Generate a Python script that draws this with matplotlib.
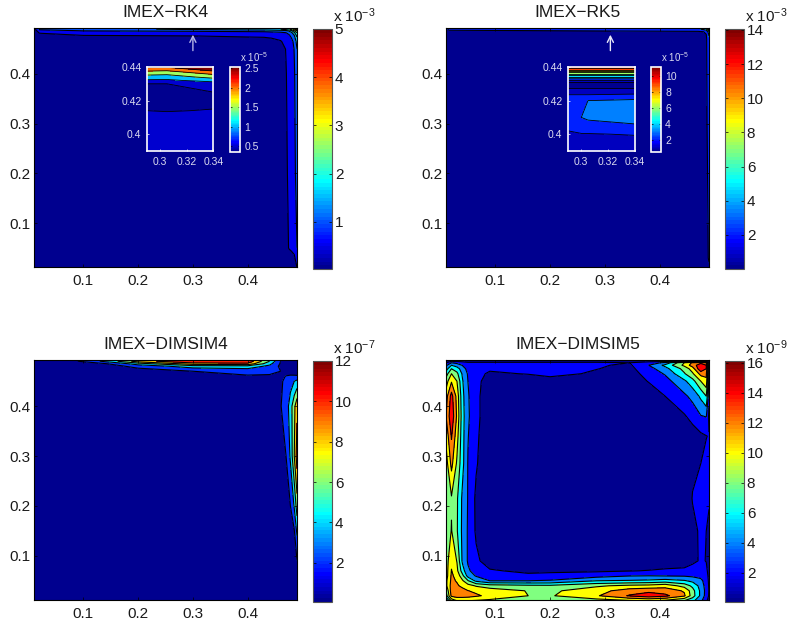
import numpy as np
import matplotlib
matplotlib.use('Agg')
import matplotlib.pyplot as plt
from matplotlib.colors import ListedColormap, Normalize
from matplotlib.cm import ScalarMappable

plt.rcParams['font.family'] = ['Liberation Sans', 'DejaVu Sans']
plt.rcParams['mathtext.default'] = 'regular'

# --- values ---
titles = ['IMEX\u2212RK4', 'IMEX\u2212RK5', 'IMEX\u2212DIMSIM4', 'IMEX\u2212DIMSIM5']
main_ticks = [0.1, 0.2, 0.3, 0.4]

# IMEX-RK4, units of 1e-3
x1 = [.01, .02, .1, .3, .43, .46, .47, .475, .48, .485, .49]
y1 = [.01, .05, .2, .4, .45, .465, .472, .478, .483, .487, .49]
z1 = [[.02, .02, .02, .02, .02, .02, .02, .02, .02, .1, .5],
      [.02, .02, .02, .02, .02, .05, .3, .52, .6, .7, 1.0],
      [.02, .02, .02, .02, .02, .1, .42, .58, .68, .85, 1.2],
      [.02, .02, .02, .02, .05, .15, .48, .62, .72, .95, 1.3],
      [.02, .02, .03, .04, .1, .3, .52, .65, .78, 1.02, 1.5],
      [.02, .03, .05, .08, .3, .47, .6, .72, .88, 1.1, 1.7],
      [.02, .1, .2, .3, .45, .56, .7, .85, 1.0, 1.3, 1.9],
      [.03, .3, .52, .56, .62, .7, .85, .95, 1.1, 1.5, 2.2],
      [.1, .55, .7, .75, .8, .9, 1.0, 1.1, 1.4, 1.9, 2.5],
      [.2, .8, 1.02, 1.1, 1.2, 1.3, 1.4, 1.6, 1.9, 2.5, 3.0],
      [.3, 1.1, 1.3, 1.6, 1.8, 2.0, 2.2, 2.4, 2.7, 3.2, 4.2]]
levels1 = [0, .5, 1, 1.5, 2, 2.5, 3, 3.5, 4, 4.5, 5, 6]

# IMEX-RK5, units of 1e-3
x2 = [.01, .015, .3, .47, .48, .485, .488, .49]
y2 = [.01, .03, .3, .47, .48, .485, .488, .49]
z2 = [[0, 0, 0, 0, 0, 0, .8, 1.6],
      [0, 0, 0, 0, 0, .8, 1.8, 2.4],
      [0, 0, 0, 0, .1, 1.6, 2.4, 3],
      [0, 0, 0, .1, .5, 1.8, 2.6, 3.4],
      [0, 0, .1, .5, 1.2, 2, 3, 4.5],
      [0, .8, 1.6, 1.8, 2, 2.6, 4, 6],
      [.5, 2, 2.4, 2.6, 3, 4, 6, 9],
      [1, 2.6, 3, 3.6, 4.5, 6, 9, 13]]
levels2 = [0, 2, 4, 6, 8, 10, 12, 14, 16]

# IMEX-DIMSIM4, units of 1e-7
x3 = [.01, .09, .15, .2, .3, .4, .44, .46, .47, .478, .485, .49]
y3 = [.01, .09, .14, .2, .3, .4, .45, .46, .47, .48, .485, .49]
z3 = [[0, 0, 0, 0, 0, 0, 0, 0, 0, 0, 0, 0],
      [0, 0, 0, 0, 0, 0, 0, 0, 0, .1, .6, 2],
      [0, 0, 0, 0, 0, 0, 0, 0, .1, .7, 1.4, 4],
      [0, 0, 0, 0, 0, 0, 0, .3, .9, 2, 4.2, 7],
      [0, 0, 0, 0, 0, 0, .1, .7, 2, 4.3, 8, 11],
      [0, 0, 0, 0, 0, .1, .4, 1.9, 2.8, 5, 7.5, 9.5],
      [0, 0, 0, 0, .1, .5, .8, 1.6, 2.6, 3.2, 4, 4.6],
      [0, 0, .1, .2, .6, 1.8, 1.8, 1.4, 2.1, 2.3, 2.2, 2.1],
      [0, 0, .4, .9, 2, 2.7, 2.4, 2, .8, .9, 1.2, 1.5],
      [0, .1, 1.2, 2.7, 5, 5.2, 3.5, 1.6, 1, 1, 1.1, 1.3],
      [0, .4, 2.2, 5, 9, 9.5, 4.6, 1.8, 1, .9, 1, 1],
      [0, 2, 5, 9, 12, 11.5, 6, 2, 1, .9, .9, .9]]
levels3 = [0, 2, 4, 6, 8, 10, 12, 14]

# IMEX-DIMSIM5, units of 1e-9
x4 = [.01, .02, .03, .04, .05, .065, .09, .16, .2, .285, .345, .38, .41, .445, .46, .475, .485, .49]
y4 = [.01, .02, .03, .04, .05, .06, .07, .09, .15, .215, .285, .34, .38, .42, .45, .465, .475, .482, .487, .49]
z4 = [[3, 8.5, 10, 10, 10, 9.8, 9.5, 8.3, 8.3, 9, 9.7, 10, 9.5, 8, 6.5, 4.5, 2.4, 1.2],
      [7, 12.5, 13, 13, 12.8, 12.3, 11.5, 10, 9.8, 11.8, 14.2, 15.2, 14.5, 12.3, 9, 5.5, 3.2, 1.8],
      [8, 13, 13, 12.7, 12.05, 11.6, 11, 9.9, 9.6, 11.2, 13, 13.4, 13, 11.8, 8.8, 5.5, 3.3, 1.9],
      [9.5, 12.8, 12.3, 11.5, 10.8, 9.8, 9, 8.5, 8.4, 9.7, 10.5, 10.7, 11.3, 9.2, 7.5, 5.2, 3.1, 1.8],
      [9.5, 12.5, 11.8, 10.3, 8.2, 5.5, 4, 4, 4.2, 6, 6.2, 6.4, 6.8, 6.2, 5.5, 4.6, 2.9, 1.7],
      [9, 12.3, 11.4, 8.6, 5.2, 3.8, 2.9, 2.4, 2.5, 3.2, 3.9, 4, 3.9, 3.8, 3.6, 3.3, 2.6, 1.6],
      [9, 12.1, 10.5, 7, 4.3, 3.2, 2.2, 1.6, 1.7, 1.7, 1.9, 2.1, 2.4, 2.6, 2.8, 2.8, 2.3, 1.5],
      [9, 11.5, 9.9, 5.6, 3.8, 2.4, 1, .3, .3, .3, .3, .3, .4, .6, 1.6, 2.2, 1.95, 1.5],
      [8.5, 10.1, 8.2, 5.5, 3.8, 1.7, .4, .1, .1, .1, .1, .1, .1, .3, 1.5, 2.3, 2, 1.8],
      [8.5, 9.8, 8.3, 5.6, 3.9, 1.6, .3, .05, .05, .05, .05, .05, .05, .5, 2.1, 2.5, 2.4, 2.1],
      [9, 12.6, 9.7, 6.6, 3.9, 2.2, .3, 0, 0, 0, 0, 0, 0, .3, 1.6, 2, 2.4, 2.2],
      [10.5, 14.2, 10.8, 6.7, 4.1, 2.4, .4, 0, 0, 0, 0, 0, 0, .3, 1, 1.6, 1.95, 2.1],
      [12, 15.5, 11.7, 6.8, 4.3, 2.6, .5, .1, 0, 0, 0, 0, .5, 1.8, 2.7, 3.9, 4.1, 1.6],
      [11, 14.8, 11.3, 6.6, 4.2, 2.6, .5, .2, .15, .15, .2, .9, 2, 3.6, 4.6, 6.4, 8, 2.5],
      [9, 11.8, 10, 6.2, 4, 2.6, 1, .7, 1.1, .5, .9, 2.1, 3.2, 5.6, 7.2, 10, 11.5, 3],
      [7, 10, 8.5, 5.7, 3.8, 2.6, 1.7, 2.1, 2.6, 1.7, 1.2, 2.7, 4.2, 7.8, 9.7, 12.7, 12.5, 3.2],
      [5, 8, 7, 4.8, 3.4, 2.6, 2.3, 2.4, 2.7, 2.05, 1.5, 3.2, 5.3, 8.7, 11, 15.7, 14, 3.5],
      [3.5, 6, 5, 3.9, 3, 2.5, 2.4, 2.4, 2.4, 2.2, 1.7, 4, 6.5, 10.5, 13, 15.2, 14, 3.5],
      [2, 4, 3.5, 2.8, 2.2, 2.2, 2.2, 2.2, 2.2, 2.2, 2, 2.8, 4.5, 10, 12.3, 13.5, 12, 3],
      [1, 1.9, 1.7, 1.5, 1.5, 1.5, 1.5, 1.5, 1.5, 1.5, 1.5, 1.5, 1.5, 2, 2.5, 3, 2.5, 1]]
levels4 = [0, 2, 4, 6, 8, 10, 12, 14, 16, 18]

# insets, units of 1e-5
inset_x1 = [.29, .305, .34]
inset_y1 = [.39, .405, .414, .42, .425, .43, .432, .434, .436, .438, .44]
inset_z1 = [[.8, .8, .8],
            [.65, .65, .65],
            [.5, .49, .51],
            [.4, .4, .45],
            [.38, .38, .5],
            [.5, .5, .72],
            [.92, .9, 1.2],
            [1.28, 1.25, 1.65],
            [1.65, 1.6, 2.1],
            [2.1, 2.05, 2.6],
            [2.6, 2.55, 3.0]]
inset_levels1 = [.35, .5, 1, 1.5, 2, 2.5, 3.5]

inset_x2 = [.29, .30, .305, .34]
inset_y2 = [.39, .40, .41, .42, .4235, .4275, .429, .431, .433, .435, .437, .4385, .44]
inset_z2 = [[1.3, 1.3, 1.3, 1.3],
            [1.85, 1.95, 1.95, 2.05],
            [2.6, 3.0, 3.2, 3.6],
            [2.6, 2.8, 3.0, 3.2],
            [2.0, 2.0, 2.0, 2.1],
            [1, 1, 1, 1],
            [.6, .6, .6, .6],
            [1, 1, 1, 1],
            [3, 3, 3, 3],
            [5, 5, 5, 5],
            [7, 7, 7, 7],
            [9, 9, 9, 9],
            [11, 11, 11, 11]]
inset_levels2 = [.44, 1, 2, 3, 4, 5, 6, 7, 8, 9, 10, 11, 12]

# colour limits and colour bar ticks of each panel
clim = [(.02, 5), (0, 14.05), (.05, 12), (.05, 16.1)]
cbar_ticks = [[1, 2, 3, 4, 5], [2, 4, 6, 8, 10, 12, 14], [2, 4, 6, 8, 10, 12], [2, 4, 6, 8, 10, 12, 14, 16]]
exponents = ['-3', '-3', '-7', '-9']
inset_clim = [(.35, 2.53), (.44, 11.1)]
inset_cbar_ticks = [[.5, 1, 1.5, 2, 2.5], [2, 4, 6, 8, 10]]
inset_cbar_labels = [['0.5', '1', '1.5', '2', '2.5'], ['2', '4', '6', '8', '10']]
inset_xticks = [.3, .32, .34]
inset_yticks = [.4, .42, .44]

# MATLAB style jet, 64 steps
t = (np.arange(64) + 1) / 64
jet64 = ListedColormap(np.clip(np.column_stack([
    np.minimum(4 * t - 1.5, -4 * t + 4.5),
    np.minimum(4 * t - .5, -4 * t + 3.5),
    np.minimum(4 * t + .5, -4 * t + 2.5)]), 0, 1))

W, H = 787, 629
LABEL = '#dcdcf0'


def px_axes(fig, left, top, right, bottom):
    return fig.add_axes([left / W, 1 - bottom / H, (right - left) / W, (bottom - top) / H])


def filled(ax, x, y, z, levels, lims, lw):
    norm = Normalize(*lims)
    cols = [jet64(norm(l)) for l in levels[:-1]]
    ax.contourf(x, y, z, levels=levels, colors=cols)
    ax.contour(x, y, z, levels=levels[1:-1], colors='k', linewidths=lw)


def colorbar(fig, cax, lims, ticks, size, col, edge):
    cb = fig.colorbar(ScalarMappable(Normalize(*lims), jet64), cax=cax)
    cb.set_ticks(ticks)
    cb.ax.tick_params(labelsize=size, labelcolor=col, direction='in', length=2.5, width=.5,
                      left=True, right=True, pad=2, color='k')
    cb.ax.minorticks_off()
    cb.outline.set_edgecolor(edge)
    return cb


fig = plt.figure(figsize=(W / 100, H / 100), dpi=100)

boxes = [(34, 28, 297, 267), (446, 28, 709, 267), (34, 360, 297, 600), (446, 360, 709, 600)]
data = [(x1, y1, z1, levels1), (x2, y2, z2, levels2), (x3, y3, z3, levels3), (x4, y4, z4, levels4)]

for i, box in enumerate(boxes):
    ax = px_axes(fig, *box)
    x, y, z, lev = data[i]
    filled(ax, x, y, z, lev, clim[i], .8)
    ax.set_xlim(.01, .49)
    ax.set_ylim(.0115, .4925)
    ax.set_xticks(main_ticks)
    ax.set_yticks(main_ticks)
    ax.tick_params(direction='in', length=2.5, width=.5, labelsize=11, top=True, right=True,
                   pad=5, colors='k')
    ax.tick_params(axis='y', pad=2.5)
    ax.set_xticklabels(['%.1f' % v for v in main_ticks], color='#1a1a1a')
    ax.set_yticklabels(['%.1f' % v for v in main_ticks], color='#1a1a1a')
    ax.set_title(titles[i], fontsize=12.5, pad=8, color='#1a1a1a')
    for s in ax.spines.values():
        s.set_linewidth(.8)

    cax = px_axes(fig, box[2] + 16, box[1] + 1, box[2] + 35, box[3] + 2)
    colorbar(fig, cax, clim[i], cbar_ticks[i], 11, '#1a1a1a', '#555555')
    fig.text((box[2] + 36) / W, 1 - (box[1] - 6) / H, 'x 10$^{%s}$' % exponents[i],
             fontsize=11, color='#1a1a1a', ha='left', va='baseline')

    if i < 2:
        ax.annotate('', xy=([.3, .31][i], .479), xytext=([.3, .31][i], .447),
                    arrowprops=dict(arrowstyle='->', color=['#b4b4e6', '#e8e8f8'][i], lw=1,
                                    shrinkA=0, shrinkB=0, mutation_scale=11))

# the two insets
inset_data = [(inset_x1, inset_y1, inset_z1, inset_levels1), (inset_x2, inset_y2, inset_z2, inset_levels2)]
for i, left in enumerate([147, 568]):
    ins = px_axes(fig, left, 67, left + 66.5, 151)
    x, y, z, lev = inset_data[i]
    filled(ins, x, y, z, lev, inset_clim[i], .6)
    ins.set_xlim(.29, .34)
    ins.set_ylim(.39, .44)
    ins.set_xticks(inset_xticks)
    ins.set_yticks(inset_yticks)
    ins.set_xticklabels(['0.3', '0.32', '0.34'])
    ins.set_yticklabels(['0.4', '0.42', '0.44'])
    ins.tick_params(direction='in', length=1.5, width=.5, color='w', labelsize=7.5, labelcolor=LABEL, pad=4)
    for s in ins.spines.values():
        s.set_edgecolor('w')
        s.set_linewidth(1.2)

    cax = px_axes(fig, left + 83, 67, left + 93, 152)
    cb = colorbar(fig, cax, inset_clim[i], inset_cbar_ticks[i], 7.5, LABEL, 'w')
    cb.set_ticklabels(inset_cbar_labels[i])
    cb.ax.tick_params(length=1.5, color='k', pad=3)
    cb.outline.set_linewidth(1.2)
    fig.text((left + 93) / W, 1 - 62 / H, 'x 10$^{-5}$', fontsize=7, color=LABEL, ha='left', va='baseline')

fig.savefig('out.png', dpi=100)
